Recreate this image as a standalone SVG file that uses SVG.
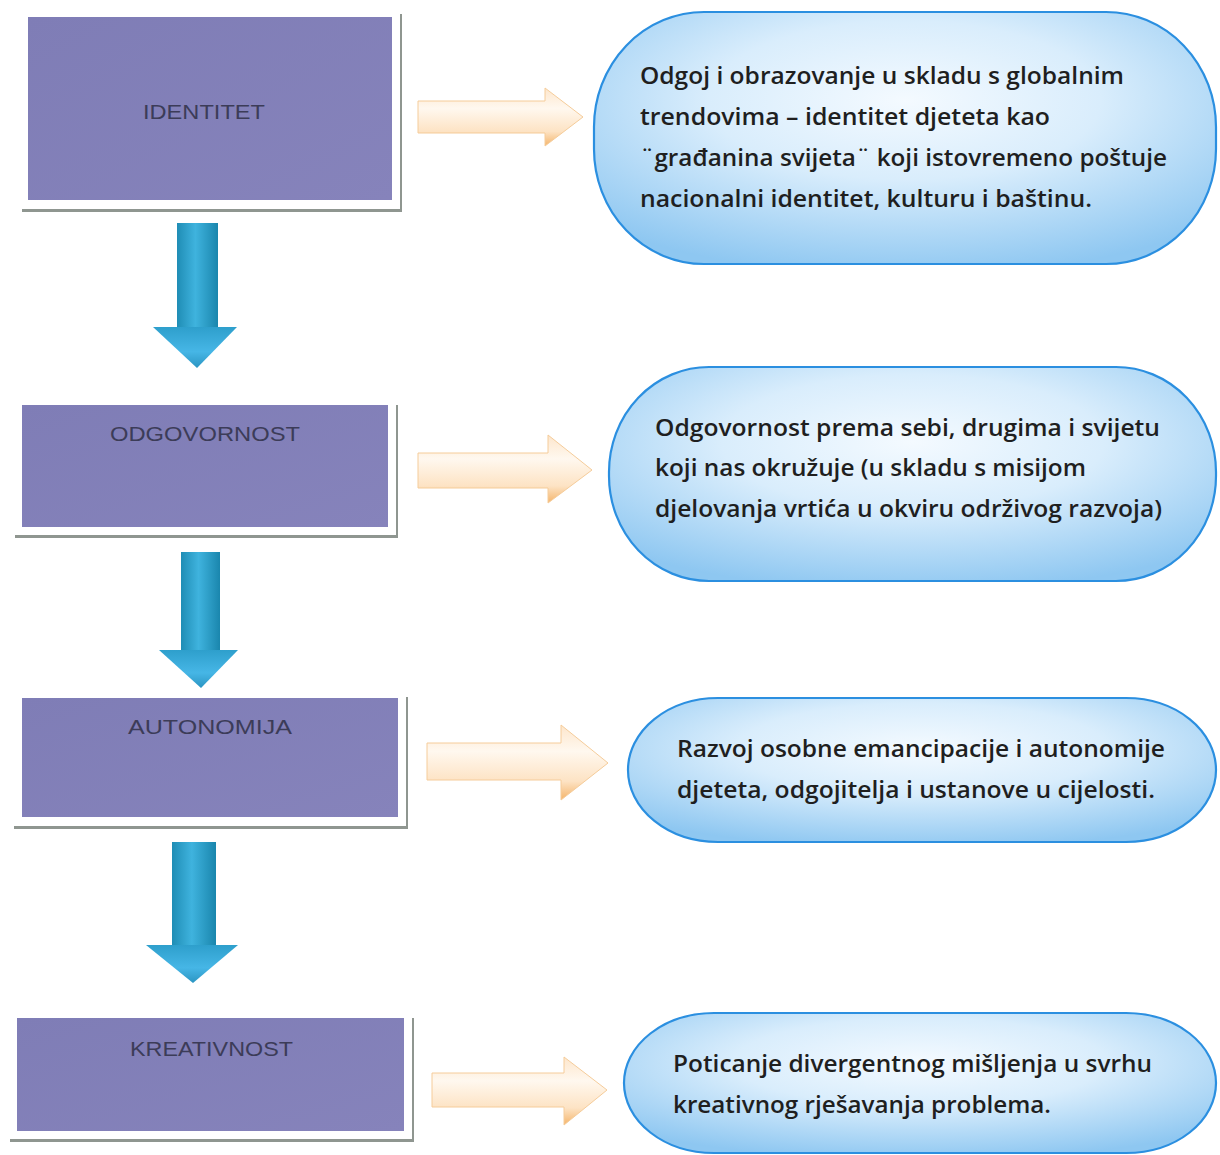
<svg xmlns="http://www.w3.org/2000/svg" width="1220" height="1155" viewBox="0 0 1220 1155">
<defs>
<linearGradient id="gDown" x1="0" y1="0" x2="1" y2="0">
<stop offset="0" stop-color="#1f8db5"/><stop offset="0.45" stop-color="#3fb3de"/><stop offset="1" stop-color="#1a86ad"/>
</linearGradient>
<linearGradient id="gHead" x1="0" y1="0" x2="0" y2="1">
<stop offset="0" stop-color="#2e9fcc"/><stop offset="0.6" stop-color="#46b6e6"/><stop offset="1" stop-color="#2b95c2"/>
</linearGradient>
<linearGradient id="gOrange" x1="0" y1="0" x2="0" y2="1">
<stop offset="0" stop-color="#fde6cc"/><stop offset="0.35" stop-color="#fff8ef"/><stop offset="0.75" stop-color="#fde3c4"/><stop offset="1" stop-color="#f4b46a"/>
</linearGradient>
<radialGradient id="gPill" cx="0.5" cy="0.35" r="0.7">
<stop offset="0" stop-color="#f4faff"/><stop offset="0.45" stop-color="#d9edfc"/><stop offset="1" stop-color="#8ec7f1"/>
</radialGradient>
<linearGradient id="gBox" x1="0" y1="0" x2="1" y2="1">
<stop offset="0" stop-color="#7f7db6"/><stop offset="1" stop-color="#8683bb"/>
</linearGradient>
</defs>
<style>
.frame{fill:#ffffff}
.shadow{fill:#8f9690}
.box{fill:url(#gBox)}
.lbl{font-family:"Liberation Sans",Arial,sans-serif;font-size:21px;fill:#3c3c58;text-anchor:start}
.pill{fill:url(#gPill);stroke:#2b8fe0;stroke-width:2.2}
.txt{font-family:"Open Sans","Liberation Sans",sans-serif;font-weight:600;font-size:23px;fill:#1f1f1f}
.down{fill:url(#gDown)}
.head{fill:url(#gHead)}
.orange{fill:url(#gOrange);stroke:#f5cc9a;stroke-width:1}
</style>
<rect width="1220" height="1155" fill="#ffffff"/>

<g id="connectors">
<g id="down1"><rect class="down" x="177" y="223" width="41" height="106"/><polygon class="head" points="153,327 237,327 197,368"/></g>
<g id="down2"><rect class="down" x="181" y="552" width="39" height="100"/><polygon class="head" points="159,650 238,650 201,688"/></g>
<g id="down3"><rect class="down" x="172" y="842" width="44" height="105"/><polygon class="head" points="146,945 238,945 193,983"/></g>
<g id="right1"><polygon class="orange" points="418,101 545,101 545,88 583,117 545,146 545,133 418,133"/></g>
<g id="right2"><polygon class="orange" points="418,453 548,453 548,435 592,470 548,503 548,488 418,488"/></g>
<g id="right3"><polygon class="orange" points="427,743 561,743 561,725 608,763 561,800 561,780 427,780"/></g>
<g id="right4"><polygon class="orange" points="432,1073 564,1073 564,1057 607,1090 564,1125 564,1107 432,1107"/></g>
</g>

<g id="identitet">
<rect class="frame" x="22" y="13" width="379" height="197"/>
<rect class="shadow" x="22" y="209" width="379" height="3"/>
<rect class="shadow" x="400" y="14" width="2" height="198"/>
<rect class="box" x="28" y="17" width="364" height="183"/>
<text class="lbl" x="143" y="119" textLength="122" lengthAdjust="spacingAndGlyphs">IDENTITET</text>
</g>

<g id="odgovornost">
<rect class="frame" x="15" y="399" width="382" height="137"/>
<rect class="shadow" x="15" y="535" width="382" height="3"/>
<rect class="shadow" x="396" y="405" width="2" height="133"/>
<rect class="box" x="22" y="405" width="366" height="122"/>
<text class="lbl" x="110" y="441" textLength="190" lengthAdjust="spacingAndGlyphs">ODGOVORNOST</text>
</g>

<g id="autonomija">
<rect class="frame" x="14" y="693" width="393" height="133"/>
<rect class="shadow" x="14" y="826" width="393" height="3"/>
<rect class="shadow" x="406" y="697" width="2" height="132"/>
<rect class="box" x="22" y="698" width="376" height="119"/>
<text class="lbl" x="128" y="734" textLength="164" lengthAdjust="spacingAndGlyphs">AUTONOMIJA</text>
</g>

<g id="kreativnost">
<rect class="frame" x="10" y="1013" width="403" height="127"/>
<rect class="shadow" x="10" y="1139" width="403" height="3"/>
<rect class="shadow" x="412" y="1018" width="2" height="124"/>
<rect class="box" x="17" y="1018" width="387" height="113"/>
<text class="lbl" x="130" y="1056" textLength="163" lengthAdjust="spacingAndGlyphs">KREATIVNOST</text>
</g>

<g id="pill1">
<rect class="pill" x="594" y="12" width="622" height="252" rx="110" ry="115"/>
<text class="txt" x="640" y="84" textLength="484" lengthAdjust="spacingAndGlyphs">Odgoj i obrazovanje u skladu s globalnim</text>
<text class="txt" x="640" y="125" textLength="410" lengthAdjust="spacingAndGlyphs">trendovima – identitet djeteta kao</text>
<text class="txt" x="640" y="166" textLength="527" lengthAdjust="spacingAndGlyphs">¨građanina svijeta¨ koji istovremeno poštuje</text>
<text class="txt" x="640" y="207" textLength="452" lengthAdjust="spacingAndGlyphs">nacionalni identitet, kulturu i  baštinu.</text>
</g>

<g id="pill2">
<rect class="pill" x="609" y="367" width="607" height="214" rx="100" ry="105"/>
<text class="txt" x="655" y="436" textLength="505" lengthAdjust="spacingAndGlyphs">Odgovornost prema sebi, drugima i svijetu</text>
<text class="txt" x="655" y="476" textLength="431" lengthAdjust="spacingAndGlyphs">koji nas okružuje (u skladu s misijom</text>
<text class="txt" x="655" y="517" textLength="507" lengthAdjust="spacingAndGlyphs">djelovanja vrtića u okviru održivog razvoja)</text>
</g>

<g id="pill3">
<rect class="pill" x="628" y="698" width="588" height="144" rx="90" ry="72"/>
<text class="txt" x="677" y="757" textLength="488" lengthAdjust="spacingAndGlyphs">Razvoj osobne emancipacije i autonomije</text>
<text class="txt" x="677" y="798" textLength="478" lengthAdjust="spacingAndGlyphs">djeteta, odgojitelja i ustanove u cijelosti.</text>
</g>

<g id="pill4">
<rect class="pill" x="624" y="1013" width="592" height="140" rx="90" ry="70"/>
<text class="txt" x="673" y="1072" textLength="479" lengthAdjust="spacingAndGlyphs">Poticanje divergentnog mišljenja u svrhu</text>
<text class="txt" x="673" y="1113" textLength="378" lengthAdjust="spacingAndGlyphs">kreativnog rješavanja problema.</text>
</g>
</svg>
